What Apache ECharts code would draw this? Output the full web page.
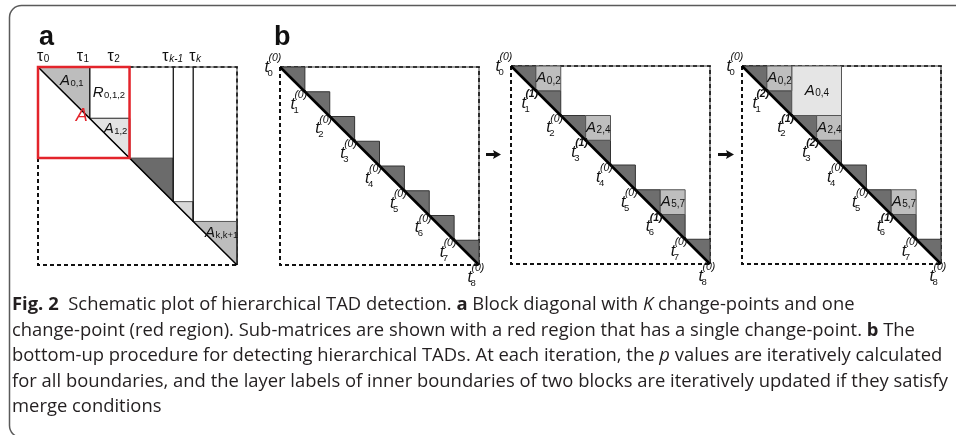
<!DOCTYPE html>
<html>
<head>
<meta charset="utf-8">
<script src="https://cdn.jsdelivr.net/npm/echarts@6/dist/echarts.min.js"></script>
<style>
  html, body { margin: 0; padding: 0; background: #fff; }
  #chart { width: 956px; height: 435px; }
</style>
</head>
<body>
<div id="chart"></div>
<script>
// ---------- panel a: block-diagonal matrix with K change-points ----------
// change-point positions along the matrix, as a share of its size (0-100)
const tauPositions = [0, 26, 46, 68, 78, 100];
const tauNames = ['0', '1', '2', 'k-1', 'k'];
// sub-matrix labels of the diagonal blocks (subscripts of A)
const aBlockSubs = ['0,1', '1,2', '', '', 'k,k+1'];

// ---------- panel b: bottom-up merging over 8 bins ----------
const binCount = 8;
// layer label of every boundary t0..t8 at each iteration
const boundaryLayers = [
  [0, 0, 0, 0, 0, 0, 0, 0, 0],
  [0, 1, 0, 1, 0, 0, 1, 0, 0],
  [0, 2, 1, 2, 0, 0, 1, 0, 0]
];
// merged sub-matrices A(start,end) present at each iteration
const mergedBlocks = [
  [],
  [[0, 2], [2, 4], [5, 7]],
  [[0, 4], [0, 2], [2, 4], [5, 7]]
];

// ---------- caption ----------
const captionLines = [
  '{b|Fig. 2}  Schematic plot of hierarchical TAD detection. {b|a} Block diagonal with {i|K} change-points and one',
  'change-point (red region). Sub-matrices are shown with a red region that has a single change-point. {b|b} The',
  'bottom-up procedure for detecting hierarchical TADs. At each iteration, the {i|p} values are iteratively calculated',
  'for all boundaries, and the layer labels of inner boundaries of two blocks are iteratively updated if they satisfy',
  'merge conditions'
];

// ======================================================================
const SANS = '"Liberation Sans", Arial, sans-serif';
const CAP_FONT = '"Open Sans", "Noto Sans", sans-serif';
const RED = '#e3242b';

const mctx = document.createElement('canvas').getContext('2d');
function measure(text, size, o) {
  o = o || {};
  mctx.font = (o.italic ? 'italic ' : '') + (o.bold ? 'bold ' : '') + size + 'px ' + (o.family || SANS);
  return mctx.measureText(text).width;
}
// text element placed by its alphabetic baseline
function txt(x, baseline, text, size, o) {
  o = o || {};
  return {
    type: 'text', x: x, y: baseline - 0.35 * size, silent: true,
    style: {
      text: text, fontSize: size, fontFamily: o.family || SANS,
      fontStyle: o.italic ? 'italic' : 'normal', fontWeight: o.bold ? 'bold' : 'normal',
      fill: o.color || '#111', align: o.align || 'left', verticalAlign: 'middle'
    }
  };
}
// italic letter with a subscript, centred on (cx, baseline)
function subLabel(cx, baseline, main, sub, mainSize, subSize) {
  const wm = measure(main, mainSize, { italic: true });
  const ws = measure(sub, subSize);
  const x0 = cx - (wm + ws) / 2;
  return [
    txt(x0, baseline, main, mainSize, { italic: true }),
    txt(x0 + wm + 0.5, baseline + 1, sub, subSize)
  ];
}

// square frame: dashed left/bottom, grey-backed dashes on top/right
function frameRender(max, topFrom) {
  return function (params, api) {
    const tl = api.coord([0, 0]), tr = api.coord([max, 0]), br = api.coord([max, max]), bl = api.coord([0, max]);
    const tf = api.coord([topFrom, 0]);
    const dash = { stroke: '#111', lineWidth: 2, lineDash: [4, 3], fill: null };
    return {
      type: 'group', children: [
        { type: 'polyline', shape: { points: [tf, tr, br] }, style: { stroke: '#9c9c9c', lineWidth: 2, fill: null } },
        { type: 'polyline', shape: { points: [tf, tr, br] }, style: Object.assign({}, dash, { lineWidth: 1.6 }) },
        { type: 'polyline', shape: { points: [tl, bl, br] }, style: dash }
      ]
    };
  };
}
function diagRender(max, width) {
  return function (params, api) {
    const a = api.coord([0, 0]), b = api.coord([max, max]);
    return {
      type: 'line',
      shape: { x1: a[0], y1: a[1], x2: b[0], y2: b[1] },
      style: { stroke: '#000', lineWidth: width }
    };
  };
}

// ---------------- panel a series ----------------
const aBlocks = tauPositions.slice(0, -1).map((p, i) => [p, tauPositions[i + 1]]);
const aFills = ['#bdbdbd', '#e3e3e3', '#6b6b6b', '#d8d8d8', '#bdbdbd'];
const aTauNudge = [-1, -13, -22, -11, -4];

const panelA = [
  { type: 'custom', xAxisIndex: 0, yAxisIndex: 0, clip: false, silent: true, data: [[0, 0]],
    renderItem: frameRender(100, tauPositions[2]) },
  { type: 'custom', xAxisIndex: 0, yAxisIndex: 0, clip: false, silent: true, data: aBlocks,
    renderItem: function (params, api) {
      const s = api.value(0), e = api.value(1), i = params.dataIndex;
      const p0 = api.coord([s, s]), p1 = api.coord([e, s]), p2 = api.coord([e, e]), top = api.coord([e, 0]);
      const ch = [
        { type: 'polygon', shape: { points: [p0, p1, p2] }, style: { fill: aFills[i], stroke: '#555', lineWidth: 1 } },
        { type: 'line', shape: { x1: p1[0], y1: p1[1], x2: p2[0], y2: p2[1] }, style: { stroke: '#222', lineWidth: 1.4 } }
      ];
      if (i >= 2 && i < aBlocks.length - 1) {
        ch.push({ type: 'line', shape: { x1: top[0], y1: top[1], x2: p2[0], y2: p2[1] }, style: { stroke: '#222', lineWidth: 1.4 } });
      }
      if (i === 0) {
        // R(0,1,2): the off-diagonal square between the first two blocks
        const r1 = api.coord([tauPositions[2], e]);
        ch.push({ type: 'line', shape: { x1: p2[0], y1: p2[1], x2: r1[0], y2: r1[1] }, style: { stroke: '#222', lineWidth: 1.4 } });
      }
      return { type: 'group', children: ch };
    } },
  { type: 'custom', xAxisIndex: 0, yAxisIndex: 0, clip: false, silent: true, data: [[0, 0]],
    renderItem: diagRender(100, 1.5) },
  { type: 'custom', xAxisIndex: 0, yAxisIndex: 0, clip: false, silent: true, data: [[0, tauPositions[2]]],
    renderItem: function (params, api) {
      const a = api.coord([0, 0]), b = api.coord([api.value(1), api.value(1)]);
      return { type: 'rect', shape: { x: a[0], y: a[1], width: b[0] - a[0], height: b[1] - a[1] },
        style: { fill: null, stroke: RED, lineWidth: 2.5 } };
    } },
  { type: 'custom', xAxisIndex: 0, yAxisIndex: 0, clip: false, silent: true, data: aBlocks,
    renderItem: function (params, api) {
      const s = api.value(0), e = api.value(1), i = params.dataIndex;
      const ch = [];
      if (aBlockSubs[i]) {
        const c = api.coord([s + (e - s) * 2 / 3, s + (e - s) / 3]);
        ch.push.apply(ch, subLabel(c[0] - 1, c[1] + 2, 'A', aBlockSubs[i], 15, 9.5));
      }
      if (i === 0) {
        const r = api.coord([(e + tauPositions[2]) / 2, e / 2]);
        ch.push.apply(ch, subLabel(r[0] - 1, r[1] + 5, 'R', '0,1,2', 15, 9.5));
        const p = api.coord([e, e]);
        ch.push(txt(p[0] - 2, p[1] + 3.5, 'A', 18, { italic: true, color: RED, align: 'right' }));
      }
      return { type: 'group', children: ch };
    } },
  { type: 'custom', xAxisIndex: 0, yAxisIndex: 0, clip: false, silent: true,
    data: tauNames.map((n, i) => [tauPositions[i], 0]),
    renderItem: function (params, api) {
      const i = params.dataIndex, p = api.coord([api.value(0), 0]);
      const x = p[0] + aTauNudge[i], base = p[1] - 5;
      const w = measure('τ', 16);
      return { type: 'group', children: [
        txt(x, base, 'τ', 16),
        txt(x + w + 0.5, base + 1, tauNames[i], 10, { italic: i >= 3 })
      ] };
    } }
];

// ---------------- panel b series ----------------
function boundaryLabel(p, idx, layer) {
  let dx = -10, dy = 18;
  if (idx === 0) { dx = -11; dy = 6; }
  else if (idx === binCount) { dx = -7; dy = 18; }
  const tr = p[0] + dx, base = p[1] + dy;
  const tw = measure('t', 16, { italic: true });
  return [
    txt(tr - tw, base, 't', 16, { italic: true }),
    txt(tr - 1.5, base + 3.5, String(idx), 9.5),
    txt(tr - 0.5, base - 11, '(' + layer + ')', 10.5, { italic: true, bold: layer > 0 })
  ];
}

function panelB(k) {
  const ax = k + 1;
  const base = { type: 'custom', xAxisIndex: ax, yAxisIndex: ax, clip: false, silent: true };
  return [
    Object.assign({}, base, { data: [[0, 0]], renderItem: frameRender(binCount, 0) }),
    Object.assign({}, base, {
      data: Array.from({ length: binCount }, (_, i) => [i, i + 1]),
      renderItem: function (params, api) {
        const s = api.value(0), e = api.value(1);
        const p0 = api.coord([s, s]), p1 = api.coord([e, s]), p2 = api.coord([e, e]);
        return { type: 'polygon', shape: { points: [p0, p1, p2] }, style: { fill: '#6e6e6e', stroke: '#333', lineWidth: 1 } };
      }
    }),
    Object.assign({}, base, {
      data: mergedBlocks[k],
      renderItem: function (params, api) {
        const s = api.value(0), e = api.value(1), mid = (s + e) / 2;
        const a = api.coord([mid, s]), b = api.coord([e, mid]);
        const cx = (a[0] + b[0]) / 2, cy = (a[1] + b[1]) / 2;
        return { type: 'group', children: [
          { type: 'rect', shape: { x: a[0], y: a[1], width: b[0] - a[0], height: b[1] - a[1] },
            style: { fill: e - s > 2 ? '#e5e5e5' : '#bebebe', stroke: '#555', lineWidth: 1 } }
        ].concat(subLabel(cx, cy + 5, 'A', s + ',' + e, 15, 10)) };
      }
    }),
    Object.assign({}, base, { data: [[0, 0]], renderItem: diagRender(binCount, 2.6) }),
    Object.assign({}, base, {
      data: boundaryLayers[k].map((layer, i) => [i, i, layer]),
      renderItem: function (params, api) {
        const p = api.coord([api.value(0), api.value(1)]);
        return { type: 'group', children: boundaryLabel(p, params.dataIndex, api.value(2)) };
      }
    })
  ];
}

const grids = [
  { left: 38, top: 67, width: 199, height: 198 },
  { left: 280, top: 67, width: 199, height: 198 },
  { left: 511, top: 66, width: 199, height: 198 },
  { left: 742, top: 66, width: 199, height: 198 }
];

// caption text is narrowed so that its widest line fills the text column
const capSize = 18;
const capPlain = captionLines[2].replace(/\{[bi]\|([^}]*)\}/g, '$1');
const capScale = 931 / measure(capPlain, capSize, { family: CAP_FONT });
const capRich = {
  b: { fontFamily: CAP_FONT, fontSize: capSize, fontWeight: 'bold', fill: '#231f20' },
  i: { fontFamily: CAP_FONT, fontSize: capSize, fontStyle: 'italic', fill: '#231f20' }
};

function arrow(x0, x1, y) {
  return { type: 'polygon', silent: true,
    shape: { points: [[x0, y - 1.6], [x1 - 7, y - 1.6], [x1 - 8, y - 4.5], [x1, y], [x1 - 8, y + 4.5], [x1 - 7, y + 1.6], [x0, y + 1.6]] },
    style: { fill: '#111' } };
}

const graphic = [
  { type: 'rect', silent: true, shape: { x: 9.5, y: 5.5, width: 1000, height: 432, r: [12, 0, 0, 12] },
    style: { fill: null, stroke: '#5a5a5a', lineWidth: 1.5 } },
  { type: 'text', x: 39, y: 51, silent: true, style: { text: 'a', fontFamily: SANS, fontWeight: 'bold', fontSize: 27, fill: '#111', verticalAlign: 'bottom' } },
  { type: 'text', x: 274, y: 51, silent: true, style: { text: 'b', fontFamily: SANS, fontWeight: 'bold', fontSize: 27, fill: '#111', verticalAlign: 'bottom' } },
  arrow(486, 501, 154.5),
  arrow(718, 734, 154.5)
].concat(captionLines.map((line, i) => ({
  type: 'text', silent: true, x: 12, y: 305 + i * 25.5, scaleX: capScale,
  style: { text: line, rich: capRich, fontFamily: CAP_FONT, fontSize: capSize, fill: '#231f20', verticalAlign: 'middle' }
})));

const chart = echarts.init(document.getElementById('chart'));
chart.setOption({
  animation: false,
  grid: grids,
  xAxis: grids.map((g, i) => ({ type: 'value', gridIndex: i, min: 0, max: i === 0 ? 100 : binCount, show: false })),
  yAxis: grids.map((g, i) => ({ type: 'value', gridIndex: i, min: 0, max: i === 0 ? 100 : binCount, inverse: true, show: false })),
  series: panelA.concat(panelB(0), panelB(1), panelB(2)),
  graphic: graphic
});
</script>
</body>
</html>
